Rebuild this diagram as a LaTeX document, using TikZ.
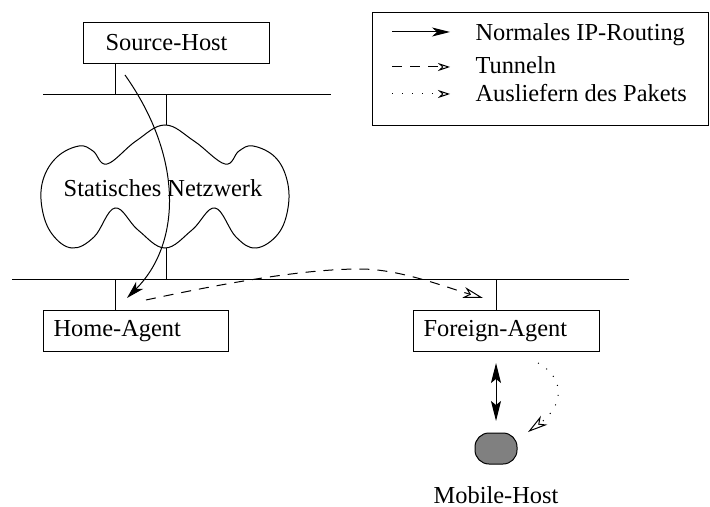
\documentclass[tikz,border=0pt]{standalone}
\usepackage{fontspec}
\setmainfont{Liberation Serif}
\usetikzlibrary{arrows.meta,calc}
\definecolor{mhgray}{RGB}{128,128,128}
\begin{document}
\begin{tikzpicture}[x=0.5pt,y=-0.5pt, line width=0.5pt,
  every node/.style={font=\fontsize{12.2}{14}\selectfont},
  hostbox/.style={draw, rectangle, minimum height=20.5pt, align=left, anchor=north west, inner ysep=0pt},
  solidtip/.style={-{Stealth[length=9pt,width=5pt,inset=2.5pt]}},
  opentip/.style={-{Stealth[open,length=10pt,width=5.5pt,inset=3pt]}},
  legsolid/.style={-{Stealth[length=9pt,width=4.5pt,inset=2.5pt]}},
  legopen/.style={-{Stealth[open,length=6pt,width=4pt,inset=2pt]}},
  dbltip/.style={{Stealth[length=10pt,width=5pt,inset=2pt]}-{Stealth[length=10pt,width=5pt,inset=2pt]}},
  tunnel/.style={dash pattern=on 5pt off 4pt},
  deliver/.style={dash pattern=on 0.5pt off 4.5pt},
  lbl/.style={anchor=base west, inner sep=0pt},
]
\useasboundingbox (0,0) rectangle (710,507);

% boxes
\node[hostbox, text width=71pt, inner xsep=11pt] (SH) at (83,22) {Source-Host};
\node[hostbox, text width=82.5pt, inner xsep=5pt] (HA) at (43,310) {Home-Agent};
\node[hostbox, text width=83pt, inner xsep=5pt] (FA) at (413,310) {Foreign-Agent};

% buses
\coordinate (b1L) at (43,95);
\coordinate (b1R) at (331,95);
\coordinate (b2L) at (12,279);
\coordinate (b2R) at (629,279);
\draw (b1L) -- (b1R);
\draw (b2L) -- (b2R);

\coordinate (sx) at (115,95);
\coordinate (hx) at (115,279);
\coordinate (fx) at (496,279);
\draw (SH.south -| sx) -- (sx);
\draw (hx) -- (HA.north -| hx);
\draw (fx) -- (FA.north -| fx);

\coordinate (r1) at (166,95);
\coordinate (r2) at (166,279);
\draw (r1) -- (r2);

% cloud
\filldraw[fill=white] plot[smooth cycle, tension=0.65] coordinates {
 (165,125) (136,141) (107,164) (93,151) (79,146) (57,157) (43,180) (42,208)
 (52,234) (72,248) (94,237) (115,208) (138,230) (165,248)
 (192,230) (215,208) (236,237) (256,248) (278,234) (288,208) (287,180)
 (275,157) (253,146) (239,151) (225,164) (194,141)};
\node[anchor=base, inner sep=0pt] (SN) at (163,197) {Statisches Netzwerk};

% mobile host
\node[draw, fill=mhgray, rounded corners=7pt, minimum width=21pt, minimum height=15.5pt, inner sep=0pt] (MH) at (496,448.5) {};
\node[anchor=base, inner sep=0pt] (MHL) at (496,503) {Mobile-Host};

% double arrow
\coordinate (d1) at (496,363);
\coordinate (d2) at (496,421);
\draw[dbltip] (d1) -- (d2);

% routing arrow
\coordinate (ra) at (125,75);
\coordinate (rb) at (127,298);
\draw[solidtip] (ra) .. controls (185,160) and (180,245) .. (rb);

% tunnel
\coordinate (ta) at (146,300);
\coordinate (tp) at (360,269);
\coordinate (tb) at (483,298);
\draw[tunnel, opentip] (ta) .. controls (216,285) and (300,269) .. (tp) .. controls (400,269) and (445,287) .. (tb);

% delivery
\coordinate (da) at (538,363);
\coordinate (db) at (528,432);
\draw[deliver, opentip] (da) .. controls (565,378) and (565,405) .. (db);

% legend
\node[draw, rectangle, minimum width=168pt, minimum height=56.5pt, anchor=north west, inner sep=0pt] (LG) at (372,12) {};
\coordinate (l1a) at (392,32);
\coordinate (l1b) at (450,32);
\coordinate (l2a) at (392,67);
\coordinate (l2b) at (450,67);
\coordinate (l3a) at (392,94);
\coordinate (l3b) at (450,94);
\draw[legsolid] (l1a) -- (l1b);
\draw[tunnel, legopen] (l2a) -- (l2b);
\draw[deliver, legopen] (l3a) -- (l3b);
\node[lbl] (t1) at (475,41) {Normales IP-Routing};
\node[lbl] (t2) at (475,74) {Tunneln};
\node[lbl] (t3) at (475,102) {Ausliefern des Pakets};
\end{tikzpicture}
\end{document}
